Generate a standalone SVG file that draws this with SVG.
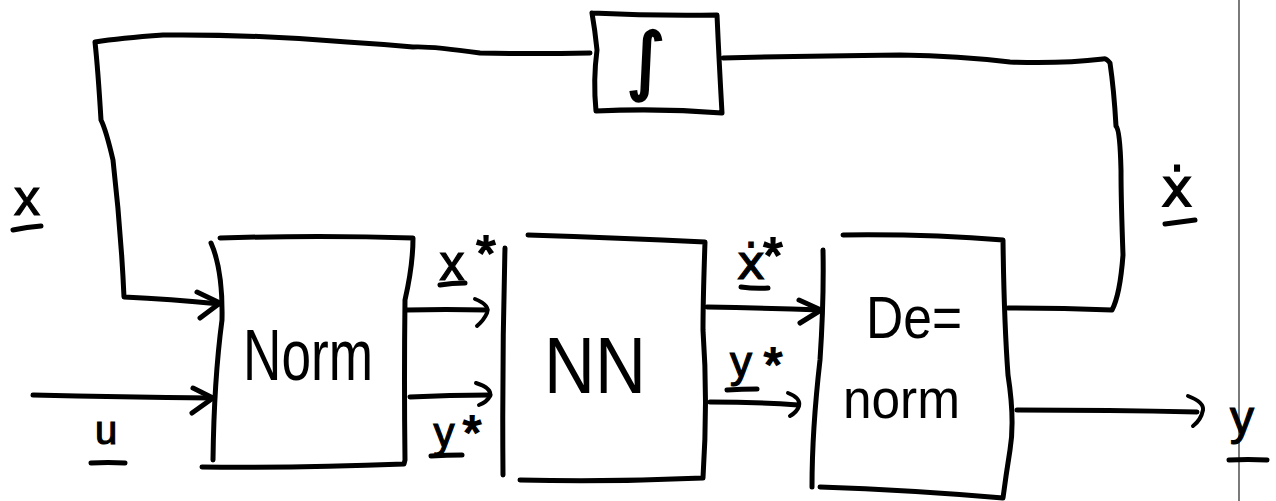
<svg xmlns="http://www.w3.org/2000/svg" width="1276" height="501" viewBox="0 0 1276 501">
  <style>
    .ink { fill: none; stroke: #000; stroke-width: 5; stroke-linecap: round; stroke-linejoin: round; }
    .thin { fill: none; stroke: #000; stroke-width: 4; stroke-linecap: round; stroke-linejoin: round; }
    .lbl { font-family: "Liberation Sans", "DejaVu Sans", sans-serif; fill: #000; stroke: #000; stroke-width: 1.2; }
    .star { font-family: "Liberation Sans", "DejaVu Sans", sans-serif; fill: #000; stroke: #000; stroke-width: 2; }
    .dot { font-family: "DejaVu Sans", sans-serif; fill: #000; stroke: #000; stroke-width: 1.2; }
    .big { font-family: "Liberation Sans", "DejaVu Sans", sans-serif; fill: #000; }
  </style>
  <rect width="1276" height="501" fill="#fff"/>

  <!-- page edge -->
  <line x1="1239" y1="0" x2="1239" y2="501" stroke="#333" stroke-width="1.3"/>

  <!-- integrator -->
  <g id="node-integrator">
    <path class="ink" d="M592,13 Q655,16 717,15 Q719,60 722,113 Q660,108 596,111 Q593,80 597,50 Q595,30 592,13"/>
    <text x="646" y="86" font-family="DejaVu Sans, sans-serif" font-size="74" text-anchor="middle" fill="#000" stroke="#000" stroke-width="2.5">∫</text>
  </g>

  <!-- normalisation block -->
  <g id="node-norm">
    <path class="ink" d="M220,238 Q320,235 413,238 Q413,265 405,300 Q404,380 405,460 L404,464 Q300,468 202,467"/>
    <path class="ink" d="M211,243 Q223,270 222,320 Q214,380 213,460"/>
    <text class="big" x="308" y="380" font-size="72" text-anchor="middle" textLength="130" lengthAdjust="spacingAndGlyphs">Norm</text>
  </g>

  <!-- neural network block -->
  <g id="node-nn">
    <path class="ink" d="M505,248 Q502,360 503,475"/>
    <path class="ink" d="M528,235 Q620,238 705,242 Q703,300 703,330 Q708,400 703,478 Q612,482 520,480"/>
    <text class="big" x="595" y="393" font-size="80" text-anchor="middle" textLength="102" lengthAdjust="spacingAndGlyphs">NN</text>
  </g>

  <!-- de-normalisation block -->
  <g id="node-denorm">
    <path class="ink" d="M823,250 Q824,300 820,360 Q812,430 812,487"/>
    <path class="ink" d="M843,235 Q930,234 1003,240 Q1004,320 1008,375 Q1015,420 1010,450 Q1006,475 1003,498 Q910,490 820,487"/>
    <text class="big" x="866" y="338" font-size="60" textLength="96" lengthAdjust="spacingAndGlyphs">De=</text>
    <text class="big" x="843" y="418" font-size="56" textLength="117" lengthAdjust="spacingAndGlyphs">norm</text>
  </g>

  <!-- connectors -->
  <g id="connectors">
    <!-- feedback loop: x into Norm, from the integrator -->
    <path class="ink" d="M590,53 Q530,54 480,53 Q430,46 413,47 Q380,44 347,42 Q250,34 163,35 Q120,38 95,42 Q98,70 101,120 Q106,130 113,160 Q121,230 124,297 Q170,299 220,304"/>
    <path class="ink" d="M197,292 L220,303 L200,318"/>
    <!-- feedback loop: dx from De-norm up to the integrator -->
    <path class="ink" d="M1008,308 Q1060,308 1112,310 Q1120,295 1123,255 Q1121,200 1121,170 Q1120,130 1116,126 Q1114,90 1110,63 Q1106,58 1103,59 Q1060,64 1010,62 Q960,56 900,55 Q800,56 723,58"/>
    <!-- u into Norm -->
    <path class="ink" d="M33,395 Q120,397 213,398"/>
    <path class="ink" d="M193,388 L213,398 L192,413"/>
    <!-- x* Norm -> NN -->
    <path class="ink" d="M407,310 Q445,309 487,310"/>
    <path class="thin" d="M475,299 Q490,305 487,313 Q484,320 477,326"/>
    <!-- y* Norm -> NN -->
    <path class="ink" d="M410,397 Q450,395 490,395"/>
    <path class="thin" d="M476,383 Q492,388 490,396 Q487,402 479,405"/>
    <!-- dx* NN -> De-norm -->
    <path class="ink" d="M707,307 Q765,308 821,310"/>
    <path class="ink" d="M799,300 L821,310 L800,323"/>
    <!-- y* NN -> De-norm -->
    <path class="ink" d="M710,402 Q755,402 798,405"/>
    <path class="thin" d="M788,393 Q801,398 799,406 Q797,412 790,416"/>
    <!-- output y -->
    <path class="ink" d="M1017,410 Q1110,410 1197,412"/>
    <path class="thin" d="M1188,396 Q1204,402 1203,410 Q1201,420 1193,426"/>
  </g>

  <!-- signal labels (vectors, underlined) -->
  <g id="labels">
    <text class="lbl" x="27" y="215" font-size="52" text-anchor="middle">x</text>
    <path class="ink" d="M13,230 Q27,227 41,226"/>

    <text class="lbl" x="106" y="444" font-size="40" text-anchor="middle">u</text>
    <path class="ink" d="M91,463 Q108,462 125,463"/>

    <text class="lbl" x="452" y="280" font-size="50" text-anchor="middle">x</text>
    <text class="star" x="486" y="271" font-size="50" text-anchor="middle">*</text>
    <path class="ink" d="M440,285 Q452,283 465,283"/>

    <text class="lbl" x="444" y="447" font-size="42" text-anchor="middle">y</text>
    <text class="star" x="472" y="449" font-size="48" text-anchor="middle">*</text>
    <path class="ink" d="M431,456 Q447,455 462,455"/>

    <text class="dot" x="751" y="279" font-size="48" text-anchor="middle">ẋ</text>
    <text class="star" x="773" y="273" font-size="50" text-anchor="middle">*</text>
    <path class="ink" d="M741,287 Q755,289 768,288"/>

    <text class="lbl" x="741" y="377" font-size="44" text-anchor="middle">y</text>
    <text class="star" x="773" y="381" font-size="48" text-anchor="middle">*</text>
    <path class="ink" d="M727,390 Q742,389 757,389"/>

    <text class="dot" x="1177" y="206" font-size="54" text-anchor="middle">ẋ</text>
    <path class="ink" d="M1165,224 Q1180,222 1195,220"/>

    <text class="lbl" x="1242" y="434" font-size="48" text-anchor="middle">y</text>
    <path class="ink" d="M1229,460 Q1248,459 1267,460"/>
  </g>
</svg>
